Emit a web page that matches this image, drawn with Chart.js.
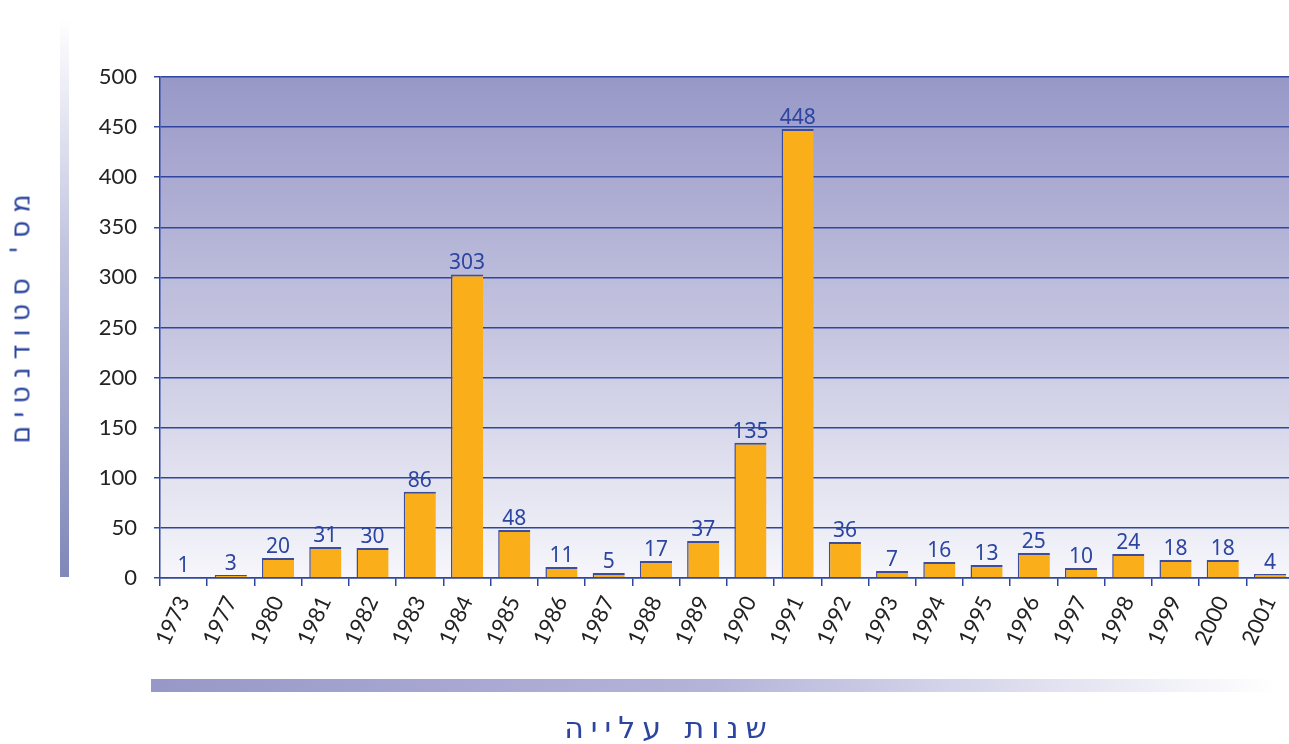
<!DOCTYPE html>
<html lang="he">
<head>
<meta charset="utf-8">
<script src="https://cdn.jsdelivr.net/npm/chart.js@4"></script>
<style>
  html, body { margin: 0; padding: 0; background: #fff; width: 1289px; height: 744px; overflow: hidden; }
  #wrap { position: relative; width: 1289px; height: 744px; overflow: hidden; }
  #chartBox { position: absolute; left: 0; top: 0; width: 1300px; height: 744px; }
  #leftBar { position: absolute; left: 60px; top: 18px; width: 9px; height: 559px;
    background: linear-gradient(to bottom, #ffffff 0%, #c4c6e0 40%, #8088b8 100%); }
  #bottomBar { position: absolute; left: 151px; top: 679px; width: 1125px; height: 13px;
    background: linear-gradient(to right, #9898c8 0%, #b4b4da 50%, #ffffff 100%); }
  #yTitle { position: absolute; left: 20px; top: 315px; transform: translate(-50%, -50%) rotate(-90deg);
    white-space: nowrap; direction: rtl; font-family: "DejaVu Sans", sans-serif; font-size: 27px;
    letter-spacing: 8px; color: #2b45a0; }
  #xTitle { position: absolute; left: 669px; top: 727px; transform: translate(-50%, -50%);
    white-space: nowrap; direction: rtl; font-family: "DejaVu Sans", sans-serif; font-size: 30px;
    letter-spacing: 7px; color: #2b45a0; }
</style>
</head>
<body>
<div id="wrap">
  <div id="leftBar"></div>
  <div id="bottomBar"></div>
  <div id="chartBox"><canvas id="aliyaChart" width="1300" height="744"></canvas></div>
  <div id="yTitle">מס' סטודנטים</div>
  <div id="xTitle">שנות עלייה</div>
</div>
<script>
// שנות עלייה
const years = ['1973', '1977', '1980', '1981', '1982', '1983', '1984', '1985', '1986', '1987', '1988', '1989',
               '1990', '1991', '1992', '1993', '1994', '1995', '1996', '1997', '1998', '1999', '2000', '2001'];
// מספר סטודנטים
const students = [1, 3, 20, 31, 30, 86, 303, 48, 11, 5, 17, 37, 135, 448, 36, 7, 16, 13, 25, 10, 24, 18, 18, 4];
const yMax = 500;
const yStep = 50;

// רקע מדורג לאזור הגרף
const plotBackground = {
    id: 'plotBackground',
    beforeDraw(chart) {
        const { ctx, chartArea } = chart;
        if (!chartArea) return;
        const g = ctx.createLinearGradient(0, chartArea.top, 0, chartArea.bottom);
        g.addColorStop(0, '#9898c8');
        g.addColorStop(0.5, '#c4c4e0');
        g.addColorStop(1, '#f6f6fb');
        ctx.save();
        ctx.fillStyle = g;
        ctx.fillRect(chartArea.left, chartArea.top, chartArea.right - chartArea.left, chartArea.bottom - chartArea.top);
        ctx.restore();
    }
};

// ערכים מעל העמודות
const valueLabels = {
    id: 'valueLabels',
    afterDatasetsDraw(chart) {
        const { ctx } = chart;
        const meta = chart.getDatasetMeta(0);
        ctx.save();
        ctx.font = '21px "Noto Sans", sans-serif';
        ctx.fillStyle = '#2b45a0';
        ctx.textAlign = 'center';
        ctx.textBaseline = 'alphabetic';
        meta.data.forEach((bar, i) => {
            ctx.fillText(String(chart.data.datasets[0].data[i]), bar.x, bar.y - 5);
        });
        ctx.restore();
    }
};

const ctx = document.getElementById('aliyaChart').getContext('2d');
new Chart(ctx, {
    type: 'bar',
    data: {
        labels: years,
        datasets: [{
            data: students,
            backgroundColor: '#f9ae1a',
            borderColor: '#3a4d9e',
            borderWidth: { top: 2, left: 1.5, right: 0, bottom: 0 },
            borderSkipped: false,
            barPercentage: 0.68,
            categoryPercentage: 1
        }]
    },
    options: {
        responsive: false,
        animation: false,
        devicePixelRatio: 1,
        layout: { padding: { left: 0, top: 77, right: 4, bottom: 0 } },
        plugins: {
            legend: { display: false },
            tooltip: { enabled: false }
        },
        scales: {
            x: {
                afterFit(scale) { scale.height = 166; },
                grid: {
                    offset: true,
                    drawOnChartArea: false,
                    drawTicks: true,
                    tickLength: 8,
                    color: '#2e46a0',
                    lineWidth: 1.5
                },
                border: { color: '#2e46a0', width: 1.5 },
                ticks: {
                    autoSkip: false,
                    minRotation: 65,
                    maxRotation: 65,
                    padding: 6,
                    color: '#222',
                    font: { family: 'Lato', size: 22 }
                }
            },
            y: {
                min: 0,
                max: yMax,
                afterFit(scale) { scale.width = 160; },
                grid: {
                    color: '#2e46a0',
                    lineWidth: 1.5,
                    tickLength: 6
                },
                border: { color: '#2e46a0', width: 1.5 },
                ticks: {
                    stepSize: yStep,
                    padding: 17,
                    color: '#222',
                    font: { family: 'Lato', size: 22 }
                }
            }
        }
    },
    plugins: [plotBackground, valueLabels]
});
</script>
</body>
</html>
